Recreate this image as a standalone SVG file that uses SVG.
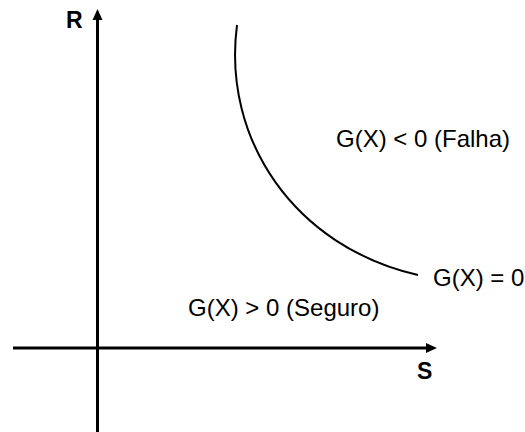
<svg xmlns="http://www.w3.org/2000/svg" width="525" height="432" viewBox="0 0 525 432">
<style>
.axis{stroke:#000;stroke-width:3;fill:none}
.curve{stroke:#000;stroke-width:2;fill:none}
.lbl{font-family:"Liberation Sans",Arial,sans-serif;font-size:24px;fill:#000}
.ax{font-family:"Liberation Sans",Arial,sans-serif;font-size:23px;font-weight:bold;fill:#000}
</style>
<rect width="525" height="432" fill="#fff"/>
<g id="connectors">
<line class="axis" x1="97.5" y1="432" x2="97.5" y2="19"/>
<polygon points="97.5,9 102.5,20 92.5,20" fill="#000"/>
<line class="axis" x1="13" y1="348" x2="428" y2="348"/>
<polygon points="437,348 426,343 426,353" fill="#000"/>
<path class="curve" d="M237,25 C222,140 295,247 418,275"/>
</g>
<g id="axis-R"><text class="ax" x="66" y="28">R</text></g>
<g id="axis-S"><text class="ax" x="417" y="379">S</text></g>
<g id="label-falha"><text class="lbl" x="336" y="147">G(X) &lt; 0 (Falha)</text></g>
<g id="label-limit"><text class="lbl" x="433" y="286">G(X) = 0</text></g>
<g id="label-seguro"><text class="lbl" x="188" y="316">G(X) &gt; 0 (Seguro)</text></g>
</svg>
